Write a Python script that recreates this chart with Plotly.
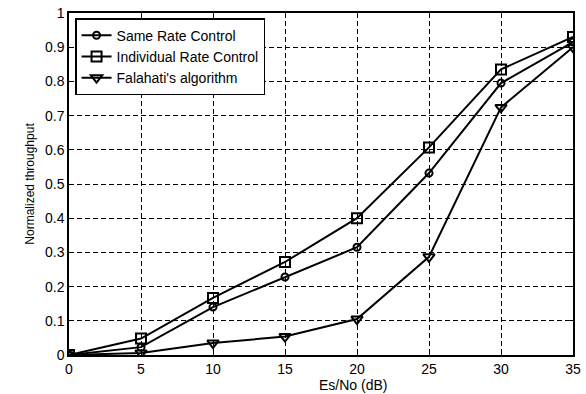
import plotly.graph_objects as go

snr_db = [0, 5, 10, 15, 20, 25, 30, 35]
same_rate = [0.0, 0.023, 0.14, 0.228, 0.315, 0.532, 0.795, 0.915]
individual_rate = [0.0, 0.048, 0.167, 0.272, 0.40, 0.607, 0.835, 0.93]
falahati = [0.0, 0.006, 0.035, 0.054, 0.105, 0.287, 0.724, 0.90]
x_ticks = [0, 5, 10, 15, 20, 25, 30, 35]
y_ticks = [0, 0.1, 0.2, 0.3, 0.4, 0.5, 0.6, 0.7, 0.8, 0.9, 1]
y_tick_labels = ["0", "0.1", "0.2", "0.3", "0.4", "0.5", "0.6", "0.7", "0.8", "0.9", "1"]

series = [
    ("Same Rate Control", same_rate, "circle-open", 7),
    ("Individual Rate Control", individual_rate, "square-open", 10),
    ("Falahati's algorithm", falahati, "triangle-down-open", 10),
]

FONT = "Liberation Sans, Arial"

fig = go.Figure()
for name, vals, sym, sz in series:
    fig.add_trace(go.Scatter(
        x=snr_db, y=vals, name=name, mode="lines+markers",
        line=dict(color="black", width=2),
        marker=dict(symbol=sym, size=sz, color="black", line=dict(width=2, color="black")),
    ))

axis_common = dict(
    showline=True, linecolor="black", linewidth=1.5, mirror="ticks",
    showgrid=True, gridcolor="black", gridwidth=1, griddash="5px,3px",
    ticks="inside", ticklen=4, tickcolor="black", zeroline=False,
    automargin=False,
    tickfont=dict(family=FONT, size=14, color="black"),
)

fig.update_xaxes(range=[0, 35], tickvals=x_ticks, **axis_common)
fig.update_yaxes(range=[0, 1], tickvals=y_ticks, ticktext=y_tick_labels,
                 title=dict(text="Normalized throughput", font=dict(family=FONT, size=12, color="black"), standoff=8),
                 **axis_common)

fig.add_annotation(text="Es/No (dB)", xref="x", yref="paper", x=19.7, y=0, yshift=-30,
                   xanchor="center", yanchor="middle", showarrow=False,
                   font=dict(family=FONT, size=14, color="black"))

fig.update_layout(
    width=586, height=394,
    margin=dict(l=69, r=13, t=13, b=39, autoexpand=False),
    paper_bgcolor="white", plot_bgcolor="white",
    showlegend=True,
    legend=dict(x=0.012, y=0.985, xanchor="left", yanchor="top",
                bgcolor="white", bordercolor="black", borderwidth=1.5,
                font=dict(family=FONT, size=14, color="black"),
                tracegroupgap=0, itemwidth=30),
)

fig.write_html("out.html")
